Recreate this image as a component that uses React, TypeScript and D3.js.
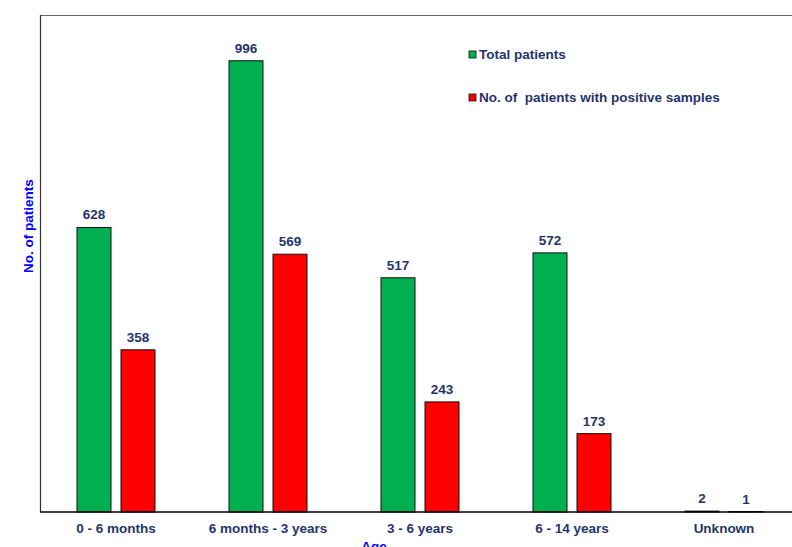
import React, { useEffect, useRef } from 'react';
import * as d3 from 'd3';

const categories = ['0 - 6 months', '6 months - 3 years', '3 - 6 years', '6 - 14 years', 'Unknown'];
const totalPatients = [628, 996, 517, 572, 2];
const positivePatients = [358, 569, 243, 173, 1];
const seriesNames = ['Total patients', 'No. of  patients with positive samples'];
const seriesColors = ['#00b050', '#ff0000'];

const App: React.FC = () => {
    const svgRef = useRef<SVGSVGElement>(null);

    useEffect(() => {
        const svg = d3.select(svgRef.current);
        svg.selectAll('*').remove();

        const margin = { top: 15, left: 40 };
        const innerWidth = 760;
        const innerHeight = 497;
        const font = 'Arial, "Liberation Sans", sans-serif';
        const fs = '13.5px';
        const navy = '#1f3471';

        const g = svg.append('g').attr('transform', `translate(${margin.left},${margin.top})`);

        const x = d3.scaleBand().domain(categories).range([0, innerWidth]);
        const y = d3.scaleLinear().domain([0, 1097]).range([innerHeight, 0]);

        // frame
        g.append('line').attr('x1', 0).attr('x2', innerWidth).attr('y1', 0.5).attr('y2', 0.5)
            .attr('stroke', '#666').attr('stroke-width', 1.2);
        g.append('line').attr('x1', 0.5).attr('x2', 0.5).attr('y1', 0).attr('y2', innerHeight)
            .attr('stroke', '#333').attr('stroke-width', 1.2);

        const barW = 34;
        const offsets = [-39, 5];
        const series = [totalPatients, positivePatients];

        series.forEach((vals, si) => {
            const data = categories.map((c, i) => ({ c, v: vals[i] }));
            g.selectAll(`.bar-${si}`)
                .data(data)
                .enter()
                .append('rect')
                .attr('x', d => (x(d.c) || 0) + x.bandwidth() / 2 + offsets[si])
                .attr('y', d => y(d.v))
                .attr('width', barW)
                .attr('height', d => innerHeight - y(d.v))
                .attr('fill', seriesColors[si])
                .attr('stroke', '#111')
                .attr('stroke-width', 1);

            g.selectAll(`.lab-${si}`)
                .data(data)
                .enter()
                .append('text')
                .attr('x', d => (x(d.c) || 0) + x.bandwidth() / 2 + offsets[si] + barW / 2)
                .attr('y', d => y(d.v) - 8)
                .attr('text-anchor', 'middle')
                .style('font-family', font)
                .style('font-size', fs)
                .style('font-weight', 'bold')
                .style('fill', navy)
                .text(d => d.v);
        });

        // x axis
        g.append('line').attr('x1', 0).attr('x2', innerWidth).attr('y1', innerHeight).attr('y2', innerHeight)
            .attr('stroke', '#000').attr('stroke-width', 1.5);

        g.selectAll('.xlab')
            .data(categories)
            .enter()
            .append('text')
            .attr('x', d => (x(d) || 0) + x.bandwidth() / 2)
            .attr('y', innerHeight + 21)
            .attr('text-anchor', 'middle')
            .style('font-family', font)
            .style('font-size', fs)
            .style('font-weight', 'bold')
            .style('fill', navy)
            .text(d => d);

        svg.append('text')
            .attr('x', 374)
            .attr('y', 551)
            .attr('text-anchor', 'middle')
            .style('font-family', font)
            .style('font-size', fs)
            .style('font-weight', 'bold')
            .style('fill', '#0000ff')
            .text('Age');

        svg.append('text')
            .attr('transform', 'translate(33,226) rotate(-90)')
            .attr('text-anchor', 'middle')
            .style('font-family', font)
            .style('font-size', fs)
            .style('font-weight', 'bold')
            .style('fill', '#0000ff')
            .text('No. of patients');

        // legend
        const legend = svg.append('g').attr('transform', 'translate(469,51)');
        seriesNames.forEach((name, i) => {
            const row = legend.append('g').attr('transform', `translate(0,${i * 43})`);
            row.append('rect').attr('x', 0).attr('y', 0).attr('width', 7).attr('height', 7)
                .attr('fill', seriesColors[i]).attr('stroke', '#111').attr('stroke-width', 0.8);
            row.append('text')
                .attr('x', 10)
                .attr('y', 8)
                .style('font-family', font)
                .style('font-size', fs)
                .style('font-weight', 'bold')
                .style('fill', navy)
                .style('white-space', 'pre')
                .text(name);
        });
    }, []);

    return (
        <svg
            ref={svgRef}
            width={792}
            height={547}
            style={{ position: 'absolute', left: 0, top: 0, background: '#fff' }}
        />
    );
};

export default App;
